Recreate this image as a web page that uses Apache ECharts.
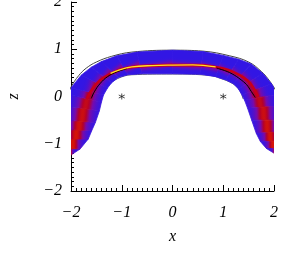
<!DOCTYPE html>
<html><head><meta charset="utf-8">
<script src="https://cdn.jsdelivr.net/npm/echarts@6/dist/echarts.min.js"></script>
<style>html,body{margin:0;padding:0;background:#fff}#c{width:293px;height:254px}</style>
</head><body><div id="c"></div>
<script>
// Axis ticks
var xTicks = [-2, -1, 0, 1, 2];
var zTicks = [-2, -1, 0, 1, 2];
// Band cross-sections, left leg -> arch -> right leg: outer edge point and inner edge point
var outerEdge = [[-2.1,-1.28],[-2.1,-1.1],[-2.1,-0.9],[-2.1,-0.7],[-2.1,-0.5],[-2.1,-0.2],[-2.08,0.05],[-2.0,0.18],[-1.8,0.45],[-1.6,0.62],[-1.4,0.74],[-1.1,0.86],[-0.7,0.94],[0,0.98],[0.6,0.95],[1.0,0.87],[1.3,0.79],[1.55,0.69],[1.78,0.49],[1.95,0.27],[2.08,0.05],[2.1,-0.2],[2.1,-0.5],[2.1,-0.75],[2.1,-0.95],[2.1,-1.1],[2.1,-1.22]];
var innerEdge = [[-2.0,-1.24],[-1.82,-1.11],[-1.66,-0.9],[-1.59,-0.72],[-1.52,-0.55],[-1.44,-0.3],[-1.40,-0.12],[-1.36,0.03],[-1.28,0.18],[-1.2,0.29],[-1.07,0.40],[-0.88,0.46],[-0.6,0.48],[0,0.48],[0.55,0.47],[0.85,0.42],[1.05,0.35],[1.2,0.27],[1.3,0.16],[1.37,0.03],[1.42,-0.08],[1.48,-0.25],[1.56,-0.5],[1.65,-0.78],[1.73,-0.95],[1.85,-1.1],[2.0,-1.2]];
// Crest position across each section (0 = outer edge, 1 = inner edge), crest spread and peak density level
var crestFrac   = [0.35,0.35,0.4,0.45,0.5,0.55,0.6,0.62,0.62,0.62,0.62,0.62,0.64,0.64,0.62,0.62,0.6,0.6,0.6,0.62,0.6,0.55,0.5,0.45,0.4,0.35,0.35];
var crestSpread = [0.38,0.38,0.35,0.32,0.3,0.27,0.24,0.2,0.17,0.15,0.14,0.14,0.14,0.14,0.14,0.14,0.14,0.15,0.17,0.2,0.24,0.27,0.3,0.32,0.35,0.38,0.38];
var crestPeak   = [0.82,0.82,0.82,0.8,0.78,0.75,0.7,0.62,0.55,0.5,0.48,0.45,0.45,0.45,0.45,0.45,0.48,0.5,0.55,0.62,0.7,0.75,0.78,0.8,0.82,0.82,0.82];
// Sharp crest of the arch (red) and its brightest part (yellow)
var crestLine = [[-1.69,-0.05],[-1.53,0.23],[-1.34,0.41],[-1.07,0.55],[-0.88,0.61],[-0.5,0.65],[0,0.665],[0.5,0.665],[0.74,0.645],[1.0,0.59],[1.19,0.52],[1.4,0.40],[1.53,0.28],[1.69,0.0]];
var crestTop = [[-1.22,0.49],[-1.07,0.555],[-0.8,0.625],[-0.4,0.655],[0,0.665],[0.4,0.668],[0.85,0.625]];
// Fitted centre line (black), visible where it leaves the crest
var centreLeft = [[-1.6,-0.04],[-1.54,0.1],[-1.43,0.27],[-1.28,0.42],[-1.1,0.52],[-0.9,0.59]];
var centreRight = [[0.87,0.6],[1.05,0.54],[1.19,0.47],[1.33,0.37],[1.46,0.25],[1.55,0.11],[1.6,0.03],[1.63,-0.02]];
// Outer and inner boundary curves (gray)
var outerLine = [[-2.05,0.06],[-2.0,0.2],[-1.85,0.44],[-1.7,0.6],[-1.5,0.73],[-1.2,0.85],[-0.8,0.94],[0,0.98],[0.6,0.96],[1.13,0.86],[1.5,0.73],[1.75,0.53],[1.92,0.32],[2.05,0.1]];
var innerLine = [[-1.47,-0.12],[-1.39,0.08],[-1.27,0.24],[-1.08,0.38],[-0.8,0.46],[0,0.475],[0.74,0.445],[0.94,0.385],[1.19,0.27],[1.33,0.12],[1.39,-0.05]];
// Markers
var stars = [[-1,0],[1,0]];

// colour table: density level -> colour
var cmap = [[0,[50,22,228]],[0.4,[120,10,170]],[0.65,[180,0,40]],[0.85,[220,25,0]],[1.0,[255,228,40]]];
function colorAt(v){
  v = Math.max(0, Math.min(1, v));
  for (var i=1;i<cmap.length;i++){
    if (v <= cmap[i][0]){
      var a=cmap[i-1], b=cmap[i], f=(v-a[0])/(b[0]-a[0]);
      var c=[0,1,2].map(function(k){return Math.round(a[1][k]+(b[1][k]-a[1][k])*f);});
      return 'rgb('+c.join(',')+')';
    }
  }
  return 'rgb(255,228,40)';
}

var sections = outerEdge.map(function(o, i){ return [o[0], o[1], innerEdge[i][0], innerEdge[i][1]]; });

var chart = echarts.init(document.getElementById('c'), null, {renderer:'canvas'});
var font = 'Liberation Serif';
function lbl(v){ return (v<0 ? '\u2212' : '') + Math.abs(v); }
function axisCommon(name){
  return {
    type:'value', min:-2, max:2, interval:1, name:name, nameLocation:'middle',
    nameTextStyle:{fontFamily:font, fontStyle:'italic', fontSize:16, color:'#000'},
    axisLine:{show:true, onZero:false, lineStyle:{color:'#000', width:1}},
    axisTick:{show:true, inside:true, length:6, lineStyle:{color:'#000'}},
    minorTick:{show:true, splitNumber:10, length:3, lineStyle:{color:'#000'}},
    splitLine:{show:false},
    axisLabel:{fontFamily:font, fontStyle:'italic', fontSize:16, color:'#000', formatter:lbl}
  };
}
var xa = axisCommon('x'); xa.nameGap = 38; xa.axisLabel.margin = 14;
var ya = axisCommon('z'); ya.nameGap = 49; ya.nameRotate = 90; ya.axisLabel.margin = 9;

function lineSeries(data, color, width, z){
  return {type:'line', data:data, smooth:0.4, showSymbol:false, silent:true, clip:true,
    lineStyle:{color:color, width:width}, z:z};
}
chart.setOption({
  animation:false,
  grid:{left:71, right:19, top:2, bottom:63, containLabel:false, outerBoundsMode:'none'},
  xAxis:xa, yAxis:ya,
  series:[
    lineSeries(outerLine, '#444', 1, 0),
    lineSeries(innerLine, '#666', 1, 0),
    {type:'custom', data:sections, clip:true, silent:true, z:1,
     renderItem:function(params, api){
       var i = params.dataIndex;
       if (i >= sections.length-1) return null;
       var o1 = api.coord(outerEdge[i]), o2 = api.coord(outerEdge[i+1]);
       var n1 = api.coord(innerEdge[i]), n2 = api.coord(innerEdge[i+1]);
       var r = (crestFrac[i]+crestFrac[i+1])/2, s = (crestSpread[i]+crestSpread[i+1])/2, p = (crestPeak[i]+crestPeak[i+1])/2;
       var stops = [];
       for (var k=0;k<=40;k++){
         var t=k/40, d=(t-r)/s;
         stops.push({offset:t, color:colorAt(p*Math.exp(-d*d))});
       }
       var g = new echarts.graphic.LinearGradient((o1[0]+o2[0])/2, (o1[1]+o2[1])/2, (n1[0]+n2[0])/2, (n1[1]+n2[1])/2, stops, true);
       return {type:'polygon', shape:{points:[o1,o2,n2,n1]}, style:{fill:g, stroke:g, lineWidth:0.8}};
     }},
    lineSeries(crestLine, 'rgb(200,0,25)', 2.6, 3),
    lineSeries(centreLeft, '#000', 1, 4),
    lineSeries(centreRight, '#000', 1, 4),
    lineSeries(crestTop, 'rgb(255,225,40)', 1.3, 5),
    {type:'scatter', data:stars, silent:true, z:6,
     symbol:'path://M0,-1L0,1M-0.87,-0.5L0.87,0.5M-0.87,0.5L0.87,-0.5',
     symbolSize:6, itemStyle:{color:'none', borderColor:'#222', borderWidth:1}}
  ]
});
</script></body></html>
